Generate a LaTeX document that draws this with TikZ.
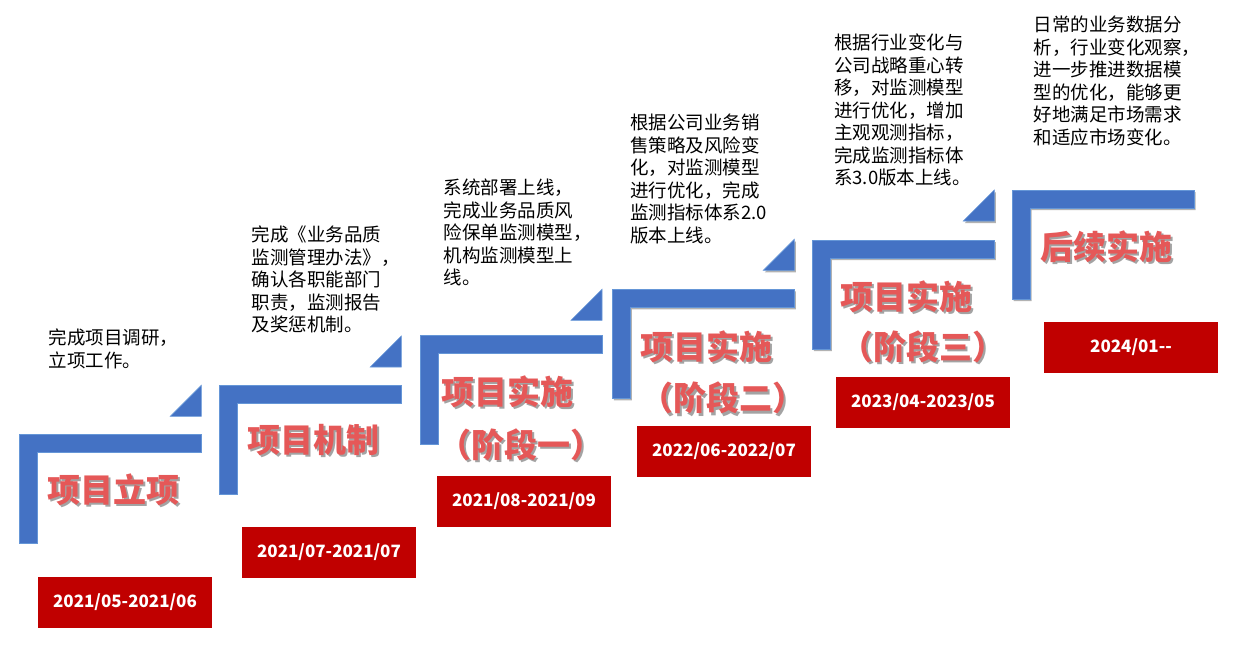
\documentclass[tikz,border=0pt]{standalone}
\usepackage{fontspec}
\newfontfamily\cjk{Noto Sans CJK SC}
\usetikzlibrary{shadows}
\definecolor{stepblue}{RGB}{68,114,196}
\definecolor{stepedge}{RGB}{101,150,215}
\definecolor{datered}{RGB}{192,0,0}
\definecolor{titlered}{RGB}{229,88,88}
\tikzset{
  stepshape/.style={fill=stepblue, draw=stepedge, line width=0.6pt},
  shadowed/.style={drop shadow={shadow xshift=1.5pt, shadow yshift=-2pt, opacity=0.3, fill=black}},
  datebox/.style={fill=datered, minimum width=174pt, minimum height=50.7pt, inner sep=0pt, text=white, font=\cjk\bfseries\fontsize{17}{20}\selectfont},
  desc/.style={anchor=north west, inner sep=0pt, align=left, font=\cjk\fontsize{18.5}{22.5}\selectfont, text=black},
  ttl/.style={inner sep=0pt, text=titlered, font=\cjk\bfseries\fontsize{33}{40}\selectfont},
  ttlsh/.style={ttl, text=black!60, opacity=0.6},
}
\newcommand\stepL[4]{%
  \path[stepshape,#4] (#1,#2) -- ++(182,0) -- ++(0,18) -- ++(-164,0) -- ++(0,91) -- ++(-18,0) -- cycle;
}
\newcommand\stepT[4]{%
  \path[stepshape,#4] (#1+151,#2-#3) -- ++(31,0) -- ++(0,-31) -- cycle;
}
\newcommand\ttlpair[4]{% name, x, y, text
  \node[ttlsh] (#1s) at (#2+1.8,#3+2.2) {#4};
  \node[ttl] (#1) at (#2,#3) {#4};
}
\begin{document}
\begin{tikzpicture}[x=1pt,y=-1pt]
\useasboundingbox (0,0) rectangle (1241,650);
% steps
\stepL{19.3}{434.3}{18}{}
\stepT{19.3}{434.3}{18}{}
\stepL{219.3}{385}{18}{}
\stepT{219.3}{385}{18}{}
\stepL{420}{335.3}{15}{}
\stepT{420}{335.3}{15}{}
\stepL{612.3}{289.3}{19}{shadowed}
\stepT{612.3}{289.3}{19}{shadowed}
\stepL{812.3}{240}{19}{shadowed}
\stepT{812.3}{240}{19}{shadowed}
\stepL{1012}{190}{18}{shadowed}
% titles
\ttlpair{t1}{113.8}{490}{项目立项}
\ttlpair{t2}{313.8}{440}{项目机制}
\ttlpair{t3}{507.8}{391.7}{项目实施}
\ttlpair{t3b}{520.8}{445}{（阶段一）}
\ttlpair{t4}{706.5}{346.7}{项目实施}
\ttlpair{t4b}{723.3}{398.3}{（阶段二）}
\ttlpair{t5}{906.5}{296.7}{项目实施}
\ttlpair{t5b}{923.3}{346.7}{（阶段三）}
\ttlpair{t6}{1106.5}{246.7}{后续实施}
% date boxes
\node[datebox] (b1) at (125,602.3) {2021/05-2021/06};
\node[datebox] (b2) at (329,552.3) {2021/07-2021/07};
\node[datebox] (b3) at (524,501.3) {2021/08-2021/09};
\node[datebox] (b4) at (724,451.3) {2022/06-2022/07};
\node[datebox] (b5) at (923,402.3) {2023/04-2023/05};
\node[datebox] (b6) at (1131,347.3) {2024/01--};
% descriptions
\node[desc] (d1) at (48.3,329) {完成项目调研，\\立项工作。};
\node[desc] (d2) at (251.7,225.7) {完成《业务品质\\监测管理办法》，\\确认各职能部门\\职责，监测报告\\及奖惩机制。};
\node[desc] (d3) at (443.3,179) {系统部署上线，\\完成业务品质风\\险保单监测模型，\\机构监测模型上\\线。};
\node[desc] (d4) at (630,114) {根据公司业务销\\售策略及风险变\\化，对监测模型\\进行优化，完成\\监测指标体系2.0\\版本上线。};
\node[desc] (d5) at (834,34) {根据行业变化与\\公司战略重心转\\移，对监测模型\\进行优化，增加\\主观观测指标，\\完成监测指标体\\系3.0版本上线。};
\node[desc] (d6) at (1033.3,15.7) {日常的业务数据分\\析，行业变化观察，\\进一步推进数据模\\型的优化，能够更\\好地满足市场需求\\和适应市场变化。};
\end{tikzpicture}
\end{document}
